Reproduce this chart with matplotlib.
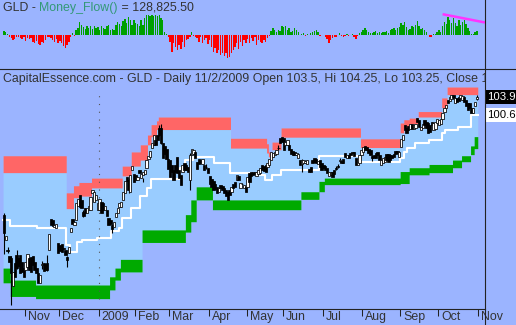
"""
GLD daily chart with channel bands + Money_Flow panel
Chạy: python3 plot.py  -> out.png
"""

import numpy as np
import pandas as pd
import matplotlib
matplotlib.use("Agg")
import matplotlib.pyplot as plt
import matplotlib.transforms as mtransforms
from matplotlib.lines import Line2D

# ── Trading calendar (Oct 17 2008 -> Nov 2 2009) ──────────────────────────
holidays = ["2008-11-27", "2008-12-25", "2009-01-01", "2009-01-19", "2009-02-16",
            "2009-04-10", "2009-05-25", "2009-07-03", "2009-09-07"]
dates = pd.bdate_range("2008-10-17", "2009-11-02")
dates = dates[~dates.isin(pd.to_datetime(holidays))]
n = len(dates)
days = np.arange(n)

# ── Prices ───────────────────────────────────────────────────────────────
open_ = [
    82.2, 77.6, 75.9, 74.8, 74.4, 69.2, 73.4, 74.9, 74.4, 74.9,
    73.6, 72.5, 72.1, 72.7, 74.4, 74.5, 74.7, 73.6, 72.5, 71.6,
    69.8, 73.0, 73.4, 73.2, 73.4, 75.8, 81.5, 81.3, 80.0, 79.9,
    77.1, 76.8, 76.9, 76.2, 75.8, 74.5, 75.3, 79.1, 81.5, 80.4,
    81.3, 83.9, 85.9, 85.0, 82.8, 83.5, 82.6, 83.2, 83.2, 86.3,
    84.6, 85.0, 83.2, 83.2, 84.7, 84.4, 83.2, 83.2, 81.7, 81.3,
    80.4, 80.0, 81.9, 82.6, 83.7, 83.7, 85.0, 86.3, 89.2, 88.7,
    86.5, 90.5, 89.8, 89.5, 88.7, 90.5, 89.1, 89.6, 89.8, 90.9,
    92.5, 92.9, 94.5, 95.1, 96.0, 96.9, 98.2, 98.2, 95.5, 94.9,
    94.3, 92.5, 92.3, 91.4, 90.5, 91.4, 92.9, 90.5, 89.6, 90.1,
    91.8, 91.4, 91.1, 88.7, 93.3, 93.4, 93.8, 91.9, 92.5, 92.4,
    91.6, 91.4, 91.0, 90.8, 89.4, 88.9, 88.5, 87.9, 87.4, 86.5,
    87.7, 87.6, 87.2, 86.8, 86.5, 86.8, 86.5, 87.9, 88.3, 88.7,
    89.4, 87.2, 87.9, 87.2, 87.4, 87.4, 90.0, 90.1, 90.1, 90.1,
    89.4, 89.8, 90.0, 91.4, 91.2, 91.4, 91.0, 91.4, 92.3, 92.9,
    93.3, 93.4, 94.5, 96.4, 96.6, 96.4, 95.0, 95.1, 95.1, 94.3,
    93.9, 93.8, 93.2, 92.7, 92.3, 91.6, 91.8, 91.8, 91.6, 90.7,
    91.1, 92.3, 92.7, 92.5, 91.6, 92.3, 91.8, 91.4, 91.2, 90.9,
    89.4, 89.6, 90.1, 90.5, 90.9, 91.2, 92.1, 92.2, 92.5, 93.6,
    92.7, 93.3, 93.6, 93.8, 93.8, 92.7, 91.4, 91.8, 93.3, 93.8,
    94.9, 94.7, 94.4, 94.2, 93.0, 93.2, 93.6, 93.8, 93.2, 91.4,
    91.8, 92.0, 93.4, 93.4, 93.2, 93.2, 93.4, 94.0, 94.0, 92.9,
    94.7, 96.0, 98.8, 98.2, 98.6, 98.0, 99.0, 98.0, 98.2, 100.0,
    99.7, 97.8, 98.2, 99.7, 99.3, 99.1, 98.8, 99.3, 97.8, 98.0,
    99.1, 98.8, 98.9, 99.9, 101.2, 101.9, 103.3, 103.2, 103.5, 104.3,
    102.8, 103.7, 103.9, 103.7, 103.4, 103.9, 103.4, 102.8, 102.8, 101.9,
    101.0, 102.2, 103.5]

close = [
    78.9, 78.4, 75.7, 73.6, 71.6, 71.7, 70.9, 72.5, 72.8, 71.6,
    71.8, 70.9, 73.6, 75.1, 72.2, 71.8, 73.1, 72.2, 71.6, 69.8,
    71.2, 73.2, 72.0, 72.2, 72.2, 78.8, 80.4, 80.2, 80.4, 80.6,
    75.3, 75.6, 75.5, 76.0, 74.9, 74.0, 76.4, 79.9, 80.6, 80.9,
    84.4, 85.2, 83.7, 83.5, 82.0, 82.6, 83.5, 83.9, 85.6, 86.8,
    86.5, 85.9, 84.4, 85.1, 82.6, 83.2, 83.9, 82.1, 80.4, 80.6,
    79.7, 81.0, 82.6, 83.5, 84.4, 84.6, 86.5, 88.5, 88.5, 86.8,
    89.6, 91.3, 88.3, 88.6, 89.2, 89.9, 89.8, 90.1, 90.5, 92.3,
    93.0, 94.0, 95.5, 96.9, 95.1, 96.0, 96.9, 95.5, 92.7, 93.4,
    92.5, 90.7, 89.2, 90.1, 88.7, 90.1, 89.9, 89.0, 87.7, 91.4,
    90.5, 90.5, 90.1, 93.3, 94.4, 94.2, 92.7, 90.7, 91.6, 91.7,
    92.5, 90.5, 91.1, 89.9, 88.0, 87.4, 86.8, 87.0, 86.3, 87.2,
    87.2, 86.8, 86.3, 85.7, 85.0, 85.9, 87.4, 87.2, 87.4, 89.6,
    88.7, 88.1, 88.0, 87.7, 86.5, 89.2, 88.3, 89.4, 89.6, 89.8,
    90.1, 90.5, 90.9, 90.5, 90.3, 90.1, 91.8, 92.5, 93.8, 93.6,
    93.8, 94.2, 94.6, 95.5, 95.6, 94.2, 95.7, 96.0, 94.2, 93.4,
    93.3, 93.2, 93.6, 93.4, 91.4, 92.3, 92.3, 92.2, 92.3, 90.1,
    90.1, 91.8, 92.0, 91.8, 92.2, 91.1, 90.5, 90.9, 90.5, 90.0,
    90.1, 90.1, 89.2, 89.8, 90.7, 91.1, 92.4, 91.8, 91.8, 92.9,
    93.3, 92.7, 93.3, 93.6, 93.1, 91.4, 92.0, 93.3, 94.2, 94.7,
    94.2, 94.2, 93.6, 93.2, 92.6, 92.7, 92.7, 93.3, 92.4, 92.3,
    92.7, 92.8, 92.3, 92.0, 92.4, 92.7, 92.9, 93.4, 93.6, 93.8,
    96.2, 96.9, 97.8, 97.3, 97.8, 99.0, 98.0, 98.8, 99.0, 99.3,
    98.4, 98.4, 98.9, 98.8, 98.2, 97.3, 97.5, 98.8, 99.1, 99.3,
    99.9, 99.7, 99.9, 101.0, 101.9, 102.4, 102.8, 103.9, 104.3, 103.7,
    103.7, 103.0, 103.2, 104.3, 104.1, 103.0, 102.2, 101.5, 101.9, 101.0,
    101.9, 102.9, 103.9]

# visible wicks only (most are hidden under neighbouring bodies)
wick_idx = [0, 2, 4, 7, 21, 24, 35, 44, 60, 69, 77, 86, 87, 103, 112, 152,
            165, 184, 185, 186, 204, 262]
wick_hi = [82.6, 76.3, 74.8, 75.8, 73.8, 74.9, 74.7, 83.1, 80.6, 89.0, 89.0,
           98.8, 99.0, 93.6, 91.5, 95.0, 92.5, 91.2, 91.5, 92.6, 93.3, 104.25]
wick_lo = [75.1, 75.3, 65.7, 72.3, 72.4, 71.9, 72.7, 81.8, 78.9, 86.3, 88.3,
           96.7, 95.3, 86.8, 90.6, 94.2, 90.2, 90.5, 90.8, 92.0, 92.2, 103.25]

# ── Channel bands (bar index where each level starts) ─────────────────────
red_idx = [0, 35, 39, 42, 49, 66, 71, 76, 80, 82, 85, 86, 126, 146, 147, 148,
           149, 154, 198, 220, 222, 225, 230, 243, 246]
red_top = [93.1, 86.3, 87.6, 88.2, 89.0, 91.2, 93.8, 95.1, 96.9, 98.8, 99.5,
           100.2, 96.3, 95.3, 93.8, 93.0, 95.6, 98.2, 96.2, 99.1, 99.7, 100.0,
           101.2, 103.7, 105.7]
red_bot = [90.0, 83.4, 85.4, 85.7, 87.2, 89.4, 91.2, 92.3, 95.1, 96.6, 97.9,
           97.9, 94.5, 93.6, 92.9, 92.3, 94.2, 96.5, 94.6, 97.3, 98.2, 99.0,
           100.2, 101.9, 104.3]

green_idx = [0, 4, 18, 59, 62, 65, 77, 101, 104, 107, 116, 165, 175, 178, 220,
             225, 236, 249, 254, 259, 261]
green_top = [72.5, 70.3, 69.4, 70.9, 72.5, 74.1, 79.5, 82.3, 85.0, 87.4, 85.0,
             86.5, 88.4, 89.0, 90.2, 90.9, 91.5, 92.3, 93.1, 94.9, 96.6]
green_bot = [69.8, 67.3, 66.9, 68.5, 70.3, 71.8, 77.2, 79.1, 81.0, 85.0, 83.2,
             85.1, 86.5, 87.8, 88.0, 89.6, 90.0, 90.9, 92.0, 93.3, 94.4]

mid_idx = [0, 4, 19, 35, 37, 41, 44, 52, 60, 64, 66, 71, 76, 80, 82, 98, 101,
           105, 117, 126, 140, 145, 149, 154, 175, 197, 220, 222, 224, 228, 236,
           243, 245, 252, 259]
mid_val = [81.3, 80.2, 79.8, 76.7, 75.5, 77.3, 77.7, 78.1, 79.3, 79.9, 81.7,
           83.5, 85.7, 87.2, 88.9, 90.9, 92.3, 92.9, 91.7, 89.9, 89.6, 88.7,
           89.6, 90.5, 93.0, 92.0, 92.7, 93.8, 94.5, 95.5, 96.0, 97.3, 97.8,
           98.4, 100.6]

# ── Money_Flow (thousands) ────────────────────────────────────────────────
mf = [
    117, 90, 20, -78, -117, -208, -182, -78, -104, -143,
    -182, -78, -234, -143, -182, -117, -273, -312, -234, -364,
    -403, -273, -338, -208, -104, -78, -143, -208, -273, -182,
    -312, -234, -338, -442, -533, -403, -273, -78, 52, -39,
    182, 247, 468, 377, 286, 208, 312, 247, 338, 208,
    312, 247, 286, 182, 338, 247, 208, 312, 377, 182,
    208, 156, 377, 468, 416, 312, 507, 598, 442, 676,
    546, 377, 546, 442, 416, 312, 572, 377, 637, 767,
    767, 728, 767, 702, 767, 728, 767, 637, 546, 91,
    30, -78, -273, -663, -338, -468, -598, -403, -572, -273,
    -468, -208, -182, -104, 91, -52, -104, -143, -273, -104,
    -338, -208, -143, -364, -208, -468, -663, -533, -728, -598,
    -793, -702, -832, -728, -923, -858, -702, -598, -468, -338,
    -572, -273, -442, -208, -338, -182, -312, -143, -234, -104,
    -400, -200, -273, -338, -208, -273, -143, -52, 117, 247,
    182, 78, 156, 117, 338, 286, 338, 156, 247, 91,
    117, 247, 156, 78, -26, 13, 65, -39, 26, -26,
    39, 78, 117, 182, 104, -52, -13, -26, -104, -182,
    -338, -208, -143, -78, -91, -26, 39, -52, -104, -39,
    26, -52, -26, 13, -78, -156, -52, 52, 91, 156,
    234, 182, 104, 65, 52, 91, 117, 65, 91, 52,
    104, 78, 117, 65, 156, 208, 247, 182, 234, 286,
    442, 377, 494, 286, 156, 208, 338, 286, 377, 507,
    338, 208, 260, 156, 104, -26, -78, -78, 13, 13,
    104, 156, 78, 338, 468, 416, 676, 546, 442, 637,
    442, 338, 546, 377, 468, 572, 416, 247, 117, 13,
    26, 91, 128.8255]

# hand-drawn divergence line on the MF panel
trend_x = [243, 266.5]
trend_y = [792, 468]

# ── Style ────────────────────────────────────────────────────────────────
BG      = "#9BB4FF"
BAND    = "#99CCFF"
RED     = "#FF6666"
GREEN   = "#00AA00"
TXT     = "#333333"
LINE    = "#222222"
FS      = 8.9
FONT    = ["Liberation Sans", "DejaVu Sans"]
plt.rcParams["font.family"] = FONT

W, H = 516, 325
fig = plt.figure(figsize=(W / 100, H / 100), dpi=100, facecolor=BG)
ax_mf = fig.add_axes([0, (H - 69) / H, 485 / W, 69 / H])
ax    = fig.add_axes([0, (H - 309) / H, 485 / W, 240 / H])
for a in (ax_mf, ax):
    a.set_facecolor(BG)
    for s in a.spines.values():
        s.set_visible(False)
    a.set_xlim(-2.2, 266.5)
    a.set_yticks([])

# ── Money_Flow panel ─────────────────────────────────────────────────────
mf_arr = np.array(mf)
ax_mf.bar(days, mf_arr, width=0.75, linewidth=0,
          color=np.where(mf_arr >= 0, "#00A000", "#FF0000"))
ax_mf.plot(trend_x, trend_y, color="#FF33FF", lw=1.8, solid_capstyle="butt")
ax_mf.set_ylim(-1345, 1345)
ax_mf.set_xticks([])

t1 = ax_mf.text(3 / 485, 1 - 11 / 69, "GLD - ", transform=ax_mf.transAxes,
                fontsize=FS, color=TXT, va="baseline", ha="left")
t2 = ax_mf.annotate("Money_Flow()", xy=(1, 0), xycoords=t1, va="bottom",
                    ha="left", fontsize=FS, color="#339977")
ax_mf.annotate(f" = {mf[-1] * 1000:,.2f}", xy=(1, 0), xycoords=t2,
               va="bottom", ha="left", fontsize=FS, color=TXT)

# ── Price panel ──────────────────────────────────────────────────────────
def at_days(idx, vals):
    # step level in force on each bar, last one repeated for steps-post
    pos = np.searchsorted(idx, days, side="right") - 1
    v = np.asarray(vals, dtype=float)[pos]
    return np.append(v, v[-1])

xg = np.arange(n + 1) - 0.5
rt, rb = at_days(red_idx, red_top), at_days(red_idx, red_bot)
gt, gb = at_days(green_idx, green_top), at_days(green_idx, green_bot)
md = at_days(mid_idx, mid_val)

ax.fill_between(xg, gb, rt, step="post", color=BAND, lw=0, zorder=1)
ax.fill_between(xg, rb, rt, step="post", color=RED, lw=0, zorder=2)
ax.fill_between(xg, gb, gt, step="post", color=GREEN, lw=0, zorder=2)
ax.plot(xg, md, drawstyle="steps-post", color="white", lw=1.5, zorder=3)

# year separator
year_pos = np.flatnonzero(dates.year == 2009)[0] + 0.5
ax.axvline(year_pos, ymin=0.04, ymax=0.9, color="#555555", lw=0.8,
           linestyle=(0, (1, 6)), zorder=3)

o = np.array(open_)
c = np.array(close)
up = c >= o
ax.vlines(wick_idx, wick_lo, wick_hi, color="black", lw=0.8, zorder=4)
ax.bar(days, np.abs(c - o), bottom=np.minimum(o, c), width=1.3,
       color=np.where(up, "white", "black"), edgecolor="black",
       linewidth=0.55, zorder=5)

ax.set_ylim(65.0, 109.0)

# month ticks
first = np.flatnonzero(np.r_[False, dates.month[1:] != dates.month[:-1]])
tick_pos = first + 0.5
tick_lab = ["2009" if dates[i].month == 1 else dates[i].strftime("%b")
            for i in first]
ax.set_xticks(tick_pos)
ax.tick_params(axis="x", direction="out", length=5, width=0.75, color=LINE,
               labelbottom=False)
trans = mtransforms.blended_transform_factory(ax.transData, ax.transAxes)
for p, lab in zip(tick_pos, tick_lab):
    ax.text(p + 1.7, -11 / 240, lab, transform=trans, ha="left",
            va="baseline", fontsize=FS, color=TXT, clip_on=False)

title = (f"CapitalEssence.com - GLD - Daily {dates[-1].month}/{dates[-1].day}/"
         f"{dates[-1].year} Open {open_[-1]:g}, Hi {wick_hi[-1]:g}, "
         f"Lo {wick_lo[-1]:g}, Close {close[-1]:g}")
ax.text(3 / 485, 1 - 13 / 240, title, transform=ax.transAxes, fontsize=FS,
        color=TXT, va="baseline", ha="left", clip_on=True)

# last-value tags on the right
rtrans = mtransforms.blended_transform_factory(ax.transAxes, ax.transData)
ax.text(1.005, close[-1], f"{close[-1]:.1f}", transform=rtrans, fontsize=8.2,
        color="white", va="center", ha="left", clip_on=False,
        bbox=dict(boxstyle="square,pad=0.2", fc="black", ec="none"))
ax.text(1.005, mid_val[-1], f"{mid_val[-1]:.1f}", transform=rtrans,
        fontsize=8.2, color="black", va="center", ha="left", clip_on=False,
        bbox=dict(boxstyle="square,pad=0.2", fc="white", ec="none"))

# frame lines
fig.add_artist(Line2D([0, 1], [(H - 69) / H] * 2, color=LINE, lw=0.8))
fig.add_artist(Line2D([485 / W] * 2, [0, 1], color=LINE, lw=0.8))
fig.add_artist(Line2D([0, 485 / W], [(H - 309) / H] * 2, color=LINE, lw=0.8))

fig.savefig("out.png", dpi=100, facecolor=BG)
